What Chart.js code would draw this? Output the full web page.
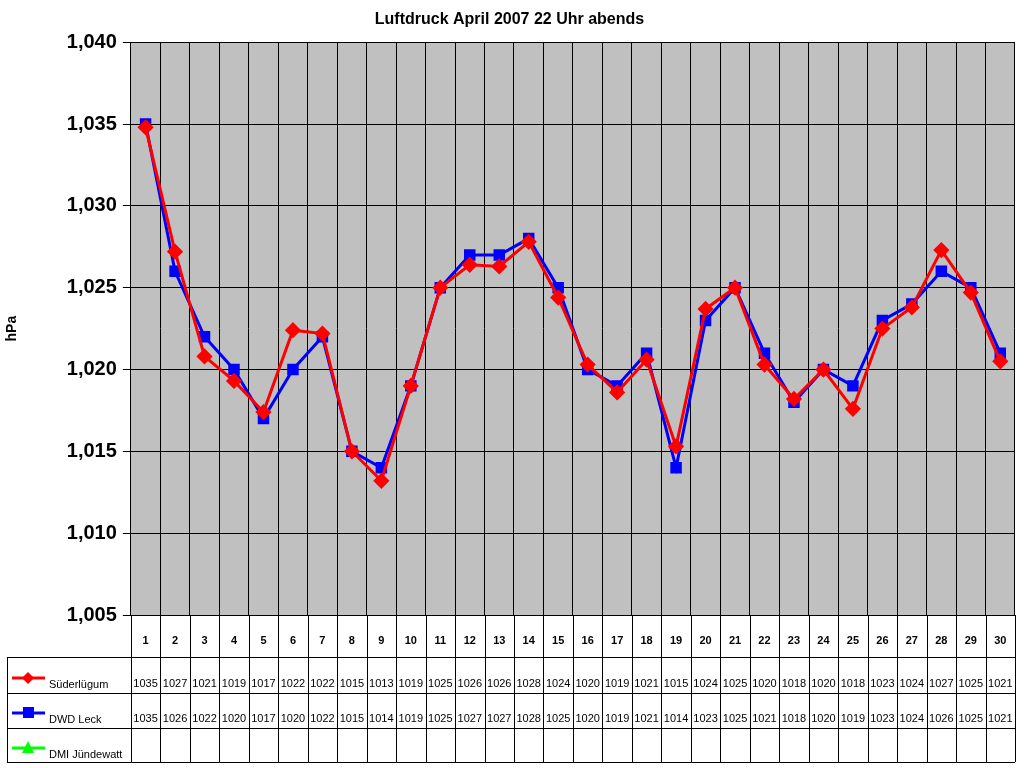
<!DOCTYPE html>
<html>
<head>
<meta charset="utf-8">
<script src="https://cdn.jsdelivr.net/npm/chart.js@4"></script>
<style>
  body { margin: 0; background: #fff; }
  #wrap { width: 1024px; height: 768px; }
</style>
</head>
<body>
<div id="wrap"><canvas id="druckChart" width="1024" height="768"></canvas></div>
<script>
// Tage im April
var days = [];
for (var d = 1; d <= 30; d++) days.push(String(d));

var suederluegum = [1034.8, 1027.2, 1020.8, 1019.3, 1017.4, 1022.4, 1022.2, 1015.0, 1013.2, 1019.0,
  1025.0, 1026.4, 1026.3, 1027.8, 1024.4, 1020.3, 1018.6, 1020.6, 1015.3, 1023.7,
  1025.0, 1020.3, 1018.2, 1020.0, 1017.6, 1022.5, 1023.8, 1027.3, 1024.7, 1020.5];
var dwdLeck = [1035, 1026, 1022, 1020, 1017, 1020, 1022, 1015, 1014, 1019,
  1025, 1027, 1027, 1028, 1025, 1020, 1019, 1021, 1014, 1023,
  1025, 1021, 1018, 1020, 1019, 1023, 1024, 1026, 1025, 1021];
var dmiJuendewatt = [];
var yTicks = [1005, 1010, 1015, 1020, 1025, 1030, 1035, 1040];

var FONT = "'Liberation Sans', Arial, sans-serif";

//Grauer Hintergrund + Datentabelle
var tablePlugin = {
  id: "tablePlugin",
  beforeDraw: function(chart) {
    var a = chart.chartArea, c = chart.ctx;
    c.save();
    c.fillStyle = "#c0c0c0";
    c.fillRect(a.left, a.top, a.right - a.left, a.bottom - a.top);
    c.restore();
  },
  afterDraw: function(chart) {
    var a = chart.chartArea, c = chart.ctx, x = chart.scales.x;
    var rows = [657, 693, 728, 762];
    var step = (a.right - a.left) / days.length;
    c.save();
    c.strokeStyle = "#000";
    c.lineWidth = 1;
    c.beginPath();
    // vertikale Linien in der Tabelle
    for (var i = 0; i <= days.length; i++) {
      var xx = Math.round(a.left + i * step) + 0.5;
      c.moveTo(xx, a.bottom); c.lineTo(xx, rows[3]);
    }
    c.moveTo(7.5, rows[0]); c.lineTo(7.5, rows[3]);
    rows.forEach(function(r) { c.moveTo(7, r + 0.5); c.lineTo(a.right, r + 0.5); });
    c.stroke();

    c.fillStyle = "#000";
    c.textAlign = "center";
    c.textBaseline = "middle";
    c.font = "bold 11px " + FONT;
    days.forEach(function(t, i) { c.fillText(t, x.getPixelForValue(i), 641); });
    c.font = "11px " + FONT;
    [suederluegum, dwdLeck].forEach(function(s, r) {
      s.forEach(function(v, i) { c.fillText(Math.round(v), x.getPixelForValue(i), r === 0 ? 684 : 719); });
    });

    // Legende links
    var legend = [
      { label: "Süderlügum", color: "#ff0000", shape: "diamond", y: 678 },
      { label: "DWD Leck", color: "#0000ff", shape: "square", y: 713 },
      { label: "DMI Jündewatt", color: "#00ff00", shape: "triangle", y: 748 }
    ];
    legend.forEach(function(l) {
      c.strokeStyle = l.color; c.fillStyle = l.color; c.lineWidth = 3;
      c.beginPath(); c.moveTo(12, l.y); c.lineTo(45, l.y); c.stroke();
      c.beginPath();
      if (l.shape === "diamond") { c.moveTo(28, l.y - 6); c.lineTo(34, l.y); c.lineTo(28, l.y + 6); c.lineTo(22, l.y); }
      else if (l.shape === "square") { c.rect(23, l.y - 6, 11, 11); }
      else { c.moveTo(28, l.y - 7); c.lineTo(34, l.y + 5); c.lineTo(22, l.y + 5); }
      c.fill();
      c.fillStyle = "#000"; c.textAlign = "left";
      c.fillText(l.label, 49, l.y + 7);
    });
    c.restore();
  }
};

var ctx = document.getElementById("druckChart").getContext("2d");
var chart = new Chart(ctx, {
  type: "line",
  data: {
    labels: days,
    datasets: [
      {
        label: "Süderlügum", data: suederluegum,
        borderColor: "#ff0000", backgroundColor: "#ff0000", borderWidth: 3,
        pointStyle: "rectRot", pointRadius: 6, pointHoverRadius: 6
      },
      {
        label: "DWD Leck", data: dwdLeck,
        borderColor: "#0000ff", backgroundColor: "#0000ff", borderWidth: 3,
        pointStyle: "rect", pointRadius: 6, pointHoverRadius: 6
      },
      {
        label: "DMI Jündewatt", data: dmiJuendewatt,
        borderColor: "#00ff00", backgroundColor: "#00ff00", borderWidth: 3,
        pointStyle: "triangle", pointRadius: 6
      }
    ]
  },
  options: {
    responsive: false,
    animation: false,
    layout: { padding: { left: 0, right: 5, top: 0, bottom: 153 } },
    plugins: {
      legend: { display: false },
      tooltip: { enabled: false },
      title: {
        display: true, text: "Luftdruck April 2007 22 Uhr abends",
        color: "#000", font: { family: FONT, size: 16, weight: "bold" },
        padding: { top: 10, bottom: 13 }
      }
    },
    scales: {
      x: {
        offset: true,
        grid: { offset: true, color: "#000", drawTicks: false },
        border: { color: "#000" },
        ticks: { display: false }
      },
      y: {
        min: 1005, max: 1040,
        afterBuildTicks: function(s) { s.ticks = yTicks.map(function(v) { return { value: v }; }); },
        grid: { color: "#000", tickLength: 8 },
        border: { color: "#000" },
        ticks: { color: "#000", font: { family: FONT, size: 20, weight: "bold" }, padding: 6 },
        title: { display: true, text: "hPa", color: "#000", font: { family: FONT, size: 14, weight: "bold" }, padding: { bottom: 40 } }
      }
    }
  },
  plugins: [tablePlugin]
});
</script>
</body>
</html>
